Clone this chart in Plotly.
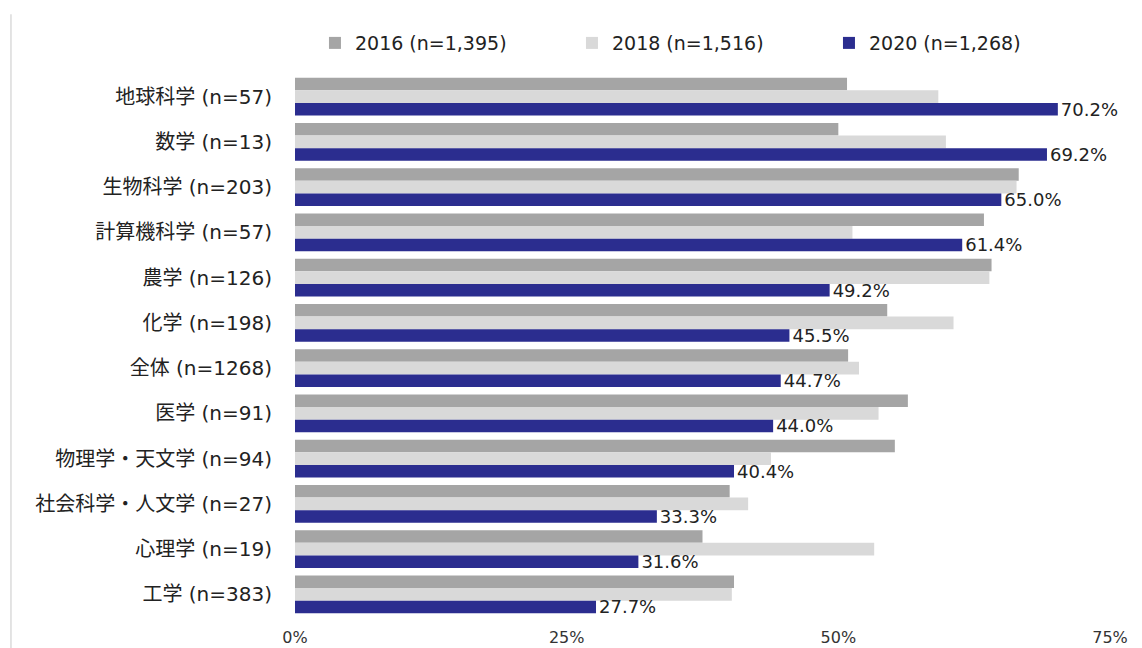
import plotly.graph_objects as go

categories = [
    "地球科学 (n=57)", "数学 (n=13)", "生物科学 (n=203)", "計算機科学 (n=57)",
    "農学 (n=126)", "化学 (n=198)", "全体 (n=1268)", "医学 (n=91)",
    "物理学・天文学 (n=94)", "社会科学・人文学 (n=27)", "心理学 (n=19)", "工学 (n=383)",
]
series_names = ["2016 (n=1,395)", "2018 (n=1,516)", "2020 (n=1,268)"]
values_2016 = [50.8, 50.0, 66.6, 63.4, 64.1, 54.5, 50.9, 56.4, 55.2, 40.0, 37.5, 40.4]
values_2018 = [59.2, 59.9, 66.4, 51.3, 63.9, 60.6, 51.9, 53.7, 43.8, 41.7, 53.3, 40.2]
values_2020 = [70.2, 69.2, 65.0, 61.4, 49.2, 45.5, 44.7, 44.0, 40.4, 33.3, 31.6, 27.7]
tick_vals = [0, 25, 50, 75]
tick_text = ["0%", "25%", "50%", "75%"]

colors = ["#A5A5A5", "#D9D9D9", "#2B2D8F"]
FONT = "DejaVu Sans, Noto Sans CJK JP, sans-serif"

fig = go.Figure()
for name, vals, col in zip(series_names, [values_2016, values_2018, values_2020], colors):
    is_last = name.startswith("2020")
    fig.add_trace(go.Bar(
        y=categories, x=vals, name=name, orientation="h",
        marker=dict(color=col, line=dict(width=0)),
        text=[f"{v:.1f}%" for v in vals] if is_last else None,
        textposition="outside" if is_last else "none",
        constraintext="none",
        textfont=dict(size=18, color="#222222", family=FONT),
        cliponaxis=False,
        hoverinfo="skip",
    ))

fig.update_layout(
    width=1142, height=648,
    margin=dict(l=287, r=40, t=66, b=39, autoexpand=False),
    paper_bgcolor="white", plot_bgcolor="white",
    barmode="group", bargap=0.17, bargroupgap=0,
    font=dict(family=FONT, color="#222222"),
    showlegend=True,
    legend=dict(
        orientation="h", x=0.0245, xanchor="left", y=1.057, yanchor="middle",
        font=dict(size=19, color="#222222", family=FONT),
        entrywidth=212, entrywidthmode="pixels", itemwidth=30,
        traceorder="normal", bgcolor="rgba(0,0,0,0)",
    ),
    xaxis=dict(
        range=[0, 75], tickvals=tick_vals, ticktext=tick_text,
        showgrid=False, zeroline=False, showline=False, ticks="",
        tickfont=dict(size=16, color="#333333", family=FONT),
        ticklabelstandoff=9, fixedrange=True,
    ),
    yaxis=dict(
        categoryorder="array", categoryarray=categories, autorange="reversed",
        showgrid=False, zeroline=False, showline=False, ticks="",
        tickfont=dict(size=20, color="#222222", family=FONT),
        ticklabelstandoff=22, fixedrange=True,
    ),
    shapes=[dict(type="line", xref="paper", yref="paper",
                 x0=-0.3485, x1=-0.3485, y0=-0.08, y1=1.11,
                 line=dict(color="#C8C8C8", width=1))],
)

fig.write_html("out.html")
